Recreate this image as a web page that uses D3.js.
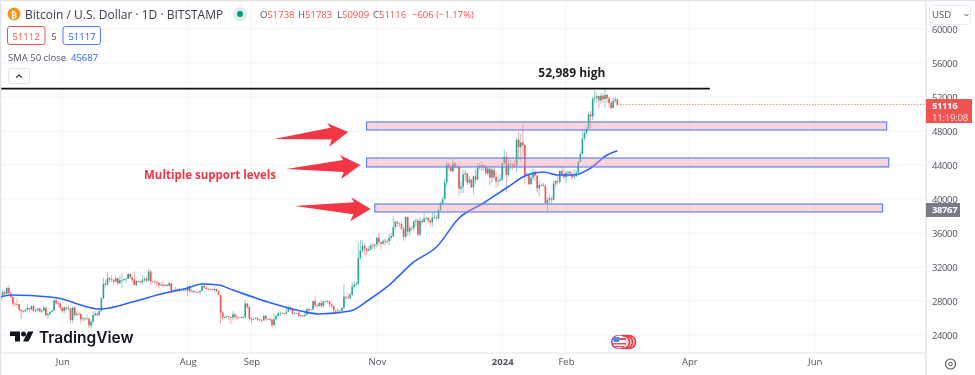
<!DOCTYPE html>
<html>
<head>
<meta charset="utf-8">
<script src="https://cdn.jsdelivr.net/npm/d3@7"></script>
<style>
  html, body { margin: 0; padding: 0; background: #fff; }
  svg { display: block; font-family: "Open Sans", sans-serif; filter: blur(0.3px); }
</style>
</head>
<body>
<svg class="chart" width="975" height="375"></svg>
<script>
"use strict";

// daily candles, first one is 2 May 2023
var firstDay = "2023-05-02";
var firstOpen = 28100;

var closes = [
  // may
  28680,29030,28850,29530,28900,28450,27690,27650,27620,26990,26800,26780,26930,27170,27030,27400,26830,26890,27110,26750,26850,27220,26330,26470,26720,26870,28080,27740,27700,27210,
  // jun
  26820,27250,27070,27120,25760,27240,26340,26500,26480,25850,25940,25900,25920,25120,25580,26340,26510,26340,26850,28310,30000,29890,30690,30550,30470,30270,30690,30080,30450,30470,
  // jul
  30590,30620,31160,30770,30510,29900,30350,30290,30170,30420,30620,30390,31470,30320,30290,30250,30140,29860,29910,29800,29910,29790,30080,29180,29230,29350,29220,29320,29360,29280,29230,
  // aug
  29700,29170,29180,29070,29050,29040,29180,29770,29570,29430,29400,29420,29280,29410,29170,28700,26630,26050,26100,26190,26120,26040,26430,26160,26050,26000,26090,26100,27720,27300,25940,
  // sep
  25800,25870,25970,25820,25780,25750,26240,25900,25890,25830,25150,25840,26230,26530,26600,26570,26530,26760,27210,27130,26570,26580,26580,26250,26300,26220,26370,27030,26910,26970,
  // oct
  27990,27500,27430,27790,27410,27950,27970,27930,27590,27390,26870,26760,26860,26860,27160,28520,28420,28330,28720,29680,29920,29990,33080,33930,34500,34160,33910,34090,34540,34500,34650,
  // nov
  35430,34930,34730,35080,35040,35050,35420,35620,36690,37310,37130,37060,36490,35550,37880,36160,36600,36570,37380,37470,35810,37420,37290,37720,37790,37480,37250,37830,37860,37720,
  // dec
  38690,39470,39980,41980,44080,43770,43290,44170,43720,43790,41240,41450,42890,43020,41940,42280,41370,42660,42270,43670,43860,43980,43720,43020,43580,42520,43440,42580,42070,42140,42280,
  // jan
  44180,44950,42840,44150,44160,43970,43930,46970,46120,46660,46340,42780,42840,41730,42510,43140,42740,41260,41620,41660,41550,39510,39890,40080,39930,41820,42120,42030,43300,42950,42580,
  // feb
  43080,43190,42990,42580,42660,43090,44340,45290,47130,47770,48290,49960,49700,51800,51900,52100,51600,52150,51750,52250,51850,51300,50700,51550,51738,51116
];

var highs = [
  29250,29250,29270,29700,29850,29100,28650,27800,28300,27650,26950,26950,27100,27640,27250,27500,27480,27130,27200,27250,27050,27450,27220,26580,26800,26900,28170,28450,28050,27830,
  27350,27320,27330,27450,27130,27350,27400,26800,26780,26530,26200,26080,26430,26060,25750,26800,26800,26700,27050,28400,30750,30500,31400,30800,31050,30650,31000,30750,31000,31280,
  30650,30790,31380,31320,30870,31500,30440,30380,30450,31050,30800,30970,31810,31630,30400,30450,30340,30230,30180,30400,30000,29990,30340,30100,29380,29680,29570,29530,29400,29440,29510,
  29730,30050,29420,29300,29100,29170,29230,30200,30150,29700,29550,29470,29450,29660,29480,29220,28770,26800,26300,26280,26250,26130,26810,26570,26320,26100,26170,26220,28130,27570,27460,
  26150,25970,26100,26100,25860,25900,26430,26430,25940,25980,25880,26550,26380,26800,26880,26650,26610,27400,27480,27380,27160,26700,26620,26730,26420,26380,26820,27200,27200,27080,
  28050,28550,27660,27830,28100,28000,28030,28100,28000,27730,27470,26950,27100,26980,27290,30000,28600,28950,29000,30200,30350,30200,34800,35200,35100,34800,34230,34470,34750,34850,34720,
  35550,35980,34930,35260,35380,35280,35900,35980,37950,37520,37400,37230,37400,36750,37970,37950,36850,36860,37500,37750,37650,37850,37650,38400,37900,37800,37590,38400,38400,38150,
  38850,39650,40200,42400,44400,44300,43850,44700,44350,44050,43800,42100,43400,43400,43100,42750,42400,42750,43450,44250,44200,44400,44000,43950,43800,43600,43700,43750,43150,42600,42900,
  44200,45900,45500,44750,44500,44200,44480,47200,47900,47700,49000,46500,43200,43080,43400,43600,43450,42900,42150,41850,41900,41700,40250,40550,40300,42200,42250,42800,43300,43850,43720,
  43250,43400,43380,43100,43500,43400,44500,45600,48170,48150,48600,50300,50370,52050,52800,52550,52150,52450,52450,52989,52350,52000,51550,51950,52000,51783
];

var lows = [
  27900,28440,28700,28830,28800,28350,27350,27400,27400,26750,25900,26600,26720,26850,26600,26870,26650,26650,26850,26670,26550,26800,26120,25870,26300,26620,26860,27560,27300,26850,
  26600,26560,26950,26970,25400,25370,26100,26240,26350,25400,25600,25650,25750,24800,24750,25170,26170,26200,26270,26650,28250,29600,29830,30250,30250,29900,30220,29850,30050,29520,
  30320,30100,30570,30620,30200,29750,29700,30100,30050,29950,30200,30200,30250,29900,30250,30050,29650,29520,29750,29600,29720,29650,29700,28900,29050,29100,29100,29120,29250,29100,29110,
  28600,28950,29000,28950,28950,28960,28700,29130,29350,29320,29350,29350,29250,29100,29050,28700,25300,25800,25980,25990,25820,25300,25800,25860,25780,25970,25960,25900,25900,27030,25680,
  25420,25780,25830,25620,25570,25400,25620,25660,25810,25550,24930,25120,25770,26210,26220,26480,26420,26380,26670,26870,26370,26520,26520,26150,26000,26120,26120,26350,26680,26880,
  26960,27180,27180,27220,27180,27200,27860,27730,27300,27170,26700,26550,26810,26800,26810,27130,28100,28150,28200,28620,29470,29650,29900,32800,33700,33400,33400,33850,33920,34080,34100,
  34300,34500,34100,34650,34600,34750,34550,35100,35530,36350,36750,36720,36350,35100,35400,35700,35650,36300,36250,36750,35650,35650,36880,37250,37580,37150,36800,36700,37600,37500,
  37600,38650,39300,39950,41400,43350,43100,43100,43600,43550,40350,40700,40700,42100,41650,41700,41300,40530,41800,42200,43420,43300,43300,42780,42750,41650,41900,42300,41350,41500,41980,
  42200,44300,40800,42650,43450,43450,43650,43200,44700,44400,44800,41800,42450,41700,41700,42100,42200,40750,40300,41430,41500,39450,38550,39500,39500,39800,41400,41650,41830,42700,42300,
  41900,42600,42900,42300,42300,42600,42800,44300,45200,46800,47550,48150,48300,49250,51300,51300,50650,51200,51300,50700,51300,50800,50500,50700,51300,50909
];

// SMA 50
var smaDates = ["2023-05-02","2023-05-07","2023-05-26","2023-06-01","2023-06-10","2023-06-19","2023-06-24","2023-07-05","2023-07-19","2023-08-01","2023-08-08","2023-08-16","2023-08-23","2023-09-09","2023-09-25","2023-10-04","2023-10-19","2023-10-28","2023-11-07","2023-11-19","2023-11-30","2023-12-11","2023-12-23","2024-01-03","2024-01-13","2024-01-21","2024-01-28","2024-02-05","2024-02-13","2024-02-21","2024-02-26"];
var smaValues = [28470,28700,28470,28240,27530,27060,27180,27880,28820,29530,30000,29880,29290,27880,26820,26470,26820,28120,29880,32590,34350,37760,39530,41290,42820,43180,42820,42820,43650,45180,45687];

var priceTicks = [24000,28000,32000,36000,40000,44000,48000,52000,56000,60000];
var dateTicks = ["2023-06-01","2023-08-01","2023-09-01","2023-11-01","2024-01-01","2024-02-01","2024-04-01","2024-06-01"];
var dateLabels = ["Jun","Aug","Sep","Nov","2024","Feb","Apr","Jun"];

// support zones and arrows pointing at them
var zoneStart = ["2023-10-27","2023-10-27","2023-10-31"];
var zoneEnd = ["2024-07-06","2024-07-07","2024-07-04"];
var zoneTop = [49060,44820,39410];
var zoneBottom = [48120,43770,38470];
var arrowTailDate = ["2023-09-12","2023-09-18","2023-09-22"];
var arrowTailPrice = [47060,43530,39180];
var arrowTipDate = ["2023-10-18","2023-10-24","2023-10-29"];
var arrowTipPrice = [47880,44000,38820];

var highPrice = 52989;
var highLineEnd = "2024-04-11";
var lastPrice = 51116;
var markedPrice = 38767;

var width = 975;
var height = 375;
var margin = ({top: 2, right: 49, bottom: 22, left: 1});
var parseDay = d3.utcParse("%Y-%m-%d");

var x = d3.scaleUtc()
  .domain([parseDay("2023-06-01"), parseDay("2024-06-01")])
  .range([62.3, 814.7]);

var y = d3.scaleLinear()
  .domain([24000, 60000])
  .range([335, 29]);

var plotRight = width - margin.right;
var plotBottom = height - margin.bottom;

var candles = closes.map(function(c, i) {
  return {
    date: d3.utcDay.offset(parseDay(firstDay), i),
    open: i == 0 ? firstOpen : closes[i - 1],
    close: c,
    high: highs[i],
    low: lows[i]
  };
});

var green = "#26a69a";
var red = "#ef5350";
var smallFont = "9.5px 'Open Sans'";

const svg = d3.select(".chart");

svg.append("defs").append("clipPath").attr("id", "plot")
  .append("rect")
  .attr("x", margin.left)
  .attr("y", margin.top)
  .attr("width", plotRight - margin.left)
  .attr("height", plotBottom - margin.top);

svg.append("rect").attr("width", width).attr("height", height).attr("fill", "#fff");

// grid
svg.append("g")
  .selectAll("line")
  .data(priceTicks)
  .enter().append("line")
  .attr("x1", margin.left).attr("x2", plotRight)
  .attr("y1", d => y(d)).attr("y2", d => y(d))
  .attr("stroke", "#f2f3f7");

svg.append("g")
  .selectAll("line")
  .data(dateTicks)
  .enter().append("line")
  .attr("x1", d => x(parseDay(d))).attr("x2", d => x(parseDay(d)))
  .attr("y1", margin.top).attr("y2", plotBottom)
  .attr("stroke", "#f2f3f7");

const plot = svg.append("g").attr("clip-path", "url(#plot)");

// last price line
plot.append("line")
  .attr("x1", x(candles[candles.length - 1].date)).attr("x2", plotRight)
  .attr("y1", y(lastPrice)).attr("y2", y(lastPrice))
  .attr("stroke", red)
  .attr("stroke-dasharray", "1 2");

// candles
plot.append("g")
  .selectAll("line")
  .data(candles)
  .enter().append("line")
  .attr("x1", d => x(d.date)).attr("x2", d => x(d.date))
  .attr("y1", d => y(d.high)).attr("y2", d => y(d.low))
  .attr("stroke", d => d.close >= d.open ? green : red)
  .attr("stroke-opacity", 0.65)
  .attr("stroke-width", 0.8);

plot.append("g")
  .selectAll("rect")
  .data(candles)
  .enter().append("rect")
  .attr("x", d => x(d.date) - 0.8)
  .attr("width", 1.6)
  .attr("y", d => y(Math.max(d.open, d.close)))
  .attr("height", d => Math.max(0.7, Math.abs(y(d.open) - y(d.close))))
  .attr("fill", d => d.close >= d.open ? green : red);

// sma
plot.append("path")
  .datum(smaValues)
  .attr("fill", "none")
  .attr("stroke", "#2962ff")
  .attr("stroke-width", 1.6)
  .attr("d", d3.line()
    .x((d, i) => x(parseDay(smaDates[i])))
    .y(d => y(d))
    .curve(d3.curveMonotoneX));

// zones
plot.append("g")
  .selectAll("rect")
  .data(zoneTop)
  .enter().append("rect")
  .attr("x", (d, i) => x(parseDay(zoneStart[i])))
  .attr("y", d => y(d))
  .attr("width", (d, i) => x(parseDay(zoneEnd[i])) - x(parseDay(zoneStart[i])))
  .attr("height", (d, i) => y(zoneBottom[i]) - y(d))
  .attr("fill", "#f49aa6")
  .attr("fill-opacity", 0.42)
  .attr("stroke", "#5f86ef")
  .attr("stroke-width", 1.2);

// 52,989 line
svg.append("line")
  .attr("x1", 0).attr("x2", x(parseDay(highLineEnd)))
  .attr("y1", y(highPrice)).attr("y2", y(highPrice))
  .attr("stroke", "#111")
  .attr("stroke-width", 1.6);

svg.append("text")
  .attr("x", x(parseDay(highLineEnd)) - 138)
  .attr("y", y(highPrice) - 12)
  .attr("text-anchor", "middle")
  .style("font", "bold 12px 'Open Sans'")
  .attr("fill", "#222")
  .text("52,989 high");

// red arrows, thin tail and swept head
var arrowShape = function(tx, ty, hx, hy) {
  var len = Math.hypot(hx - tx, hy - ty);
  var ux = (hx - tx) / len, uy = (hy - ty) / len;
  var p = (along, side) => [tx + ux * along - uy * side, ty + uy * along + ux * side];
  return [
    p(0, 0),
    p(len - 17, -6),
    p(len - 20, -11),
    p(len, 0),
    p(len - 20, 13),
    p(len - 17, 6)
  ];
};

svg.append("g")
  .selectAll("path")
  .data(arrowTipPrice)
  .enter().append("path")
  .attr("fill", "#f23645")
  .attr("d", (d, i) => d3.line()(arrowShape(
    x(parseDay(arrowTailDate[i])), y(arrowTailPrice[i]),
    x(parseDay(arrowTipDate[i])), y(d))) + "Z");

svg.append("text")
  .attr("x", 144).attr("y", 179)
  .style("font", "bold 11.5px 'Open Sans'")
  .attr("fill", "#f23645")
  .text("Multiple support levels");

// price axis
var yAxis = g => g
  .attr("transform", `translate(${plotRight},0)`)
  .call(d3.axisRight(y).tickValues(priceTicks).tickSize(0).tickPadding(6).tickFormat(d3.format("d")))
  .call(g => g.select(".domain").remove())
  .call(g => g.selectAll("text").attr("fill", "#50535e").style("font", smallFont).style("letter-spacing", "-0.4px"));

var xAxis = g => g
  .attr("transform", `translate(0,${plotBottom})`)
  .call(d3.axisBottom(x).tickValues(dateTicks.map(parseDay)).tickSize(0).tickPadding(5).tickFormat((d, i) => dateLabels[i]))
  .call(g => g.select(".domain").remove())
  .call(g => g.selectAll("text").attr("fill", "#50535e").style("font", smallFont))
  .call(g => g.selectAll("text").filter((d, i) => i == 4).style("font-weight", "bold"));

svg.append("g").call(yAxis);
svg.append("g").call(xAxis);

// borders
svg.append("line").attr("x1", plotRight).attr("x2", plotRight).attr("y1", 0).attr("y2", height).attr("stroke", "#e3e5ec").attr("stroke-width", 1.5);
svg.append("line").attr("x1", 0).attr("x2", plotRight).attr("y1", plotBottom).attr("y2", plotBottom).attr("stroke", "#e3e5ec").attr("stroke-width", 1.2);
svg.append("line").attr("x1", 0).attr("x2", width).attr("y1", 0.5).attr("y2", 0.5).attr("stroke", "#e0e3eb").attr("stroke-width", 1.5);
svg.append("line").attr("x1", 0.5).attr("x2", 0.5).attr("y1", 0).attr("y2", height).attr("stroke", "#e0e3eb").attr("stroke-width", 1.5);

// price tags
svg.append("rect").attr("x", plotRight).attr("y", y(lastPrice) - 5.5).attr("width", 46).attr("height", 24).attr("fill", "#f05350");
svg.append("text").attr("x", plotRight + 6).attr("y", y(lastPrice) + 4).attr("fill", "#fff")
  .style("font", "bold 9.5px 'Open Sans'").style("letter-spacing", "-0.4px").text(lastPrice);
svg.append("text").attr("x", plotRight + 6).attr("y", y(lastPrice) + 16).attr("fill", "#fde3e3")
  .style("font", smallFont).style("letter-spacing", "-0.2px").text("11:19:08");
svg.append("rect").attr("x", plotRight).attr("y", y(markedPrice) - 6.5).attr("width", 34).attr("height", 14).attr("fill", "#787b86");
svg.append("text").attr("x", plotRight + 6).attr("y", y(markedPrice) + 4).attr("fill", "#fff")
  .style("font", "bold 9.5px 'Open Sans'").style("letter-spacing", "-0.4px").text(markedPrice);

// USD button
svg.append("rect").attr("x", 929.5).attr("y", 5.5).attr("width", 41).attr("height", 19).attr("rx", 3)
  .attr("fill", "#fff").attr("stroke", "#e8eaf1");
svg.append("text").attr("x", 932).attr("y", 18).attr("fill", "#50535e").style("font", smallFont).text("USD");
svg.append("path").attr("d", "M964.5 14l2 2 2-2").attr("fill", "none").attr("stroke", "#50535e");

// settings wheel
svg.append("circle").attr("cx", 950.5).attr("cy", 364).attr("r", 5).attr("fill", "none").attr("stroke", "#555").attr("stroke-width", 1.1);
svg.append("circle").attr("cx", 950.5).attr("cy", 364).attr("r", 1.8).attr("fill", "none").attr("stroke", "#555").attr("stroke-width", 1);

// header
svg.append("circle").attr("cx", 14).attr("cy", 14).attr("r", 6.5).attr("fill", "#f7931a");
svg.append("text").attr("x", 14).attr("y", 17.5).attr("text-anchor", "middle").attr("fill", "#fff")
  .style("font", "bold 9px 'DejaVu Sans'").text("₿");
svg.append("text").attr("x", 25).attr("y", 18.5).attr("fill", "#3a3d48")
  .style("font", "12px 'Open Sans'").text("Bitcoin / U.S. Dollar · 1D · BITSTAMP");
svg.append("circle").attr("cx", 240).attr("cy", 14).attr("r", 7).attr("fill", "#daf1ec");
svg.append("circle").attr("cx", 240).attr("cy", 14).attr("r", 3).attr("fill", "#089981");

var ohlcLabels = ["O", "H", "L", "C"];
var ohlcValues = [51738, 51783, 50909, 51116];
var ohlcX = [260, 298, 337, 373];
var legend = svg.append("text").attr("y", 18).style("font", smallFont);
ohlcLabels.forEach(function(l, i) {
  legend.append("tspan").attr("x", ohlcX[i]).attr("fill", "#50535e").text(l);
  legend.append("tspan").attr("fill", red).text(ohlcValues[i]);
});
legend.append("tspan").attr("x", 412).attr("fill", red).text("−606 (−1.17%)");

svg.append("rect").attr("x", 7.5).attr("y", 26.5).attr("width", 37.5).attr("height", 18).attr("rx", 2.5).attr("fill", "#fff").attr("stroke", red);
svg.append("text").attr("x", 26).attr("y", 39.5).attr("text-anchor", "middle").attr("fill", red).style("font", smallFont).text("51112");
svg.append("text").attr("x", 54).attr("y", 39.5).attr("text-anchor", "middle").attr("fill", "#50535e").style("font", smallFont).text("5");
svg.append("rect").attr("x", 63).attr("y", 26.5).attr("width", 37.5).attr("height", 18).attr("rx", 2.5).attr("fill", "#fff").attr("stroke", "#2962ff").attr("stroke-opacity", 0.8);
svg.append("text").attr("x", 82).attr("y", 39.5).attr("text-anchor", "middle").attr("fill", "#2962ff").style("font", smallFont).text("51117");

svg.append("text").attr("x", 8).attr("y", 61).attr("fill", "#50535e").style("font", smallFont).text("SMA 50 close");
svg.append("text").attr("x", 71).attr("y", 61).attr("fill", "#2962ff").style("font", smallFont).text("45687");

svg.append("rect").attr("x", 8.5).attr("y", 68.5).attr("width", 21).attr("height", 15).attr("rx", 2).attr("fill", "#fff").attr("stroke", "#e3e5ec");
svg.append("path").attr("d", "M16 77.5l3-2.5 3 2.5").attr("fill", "none").attr("stroke", "#333").attr("stroke-width", 1.1);

// tradingview logo
const logo = svg.append("g").attr("fill", "#131722");
logo.append("path").attr("d", "M10 331.5h10v10h-5v-5.5h-5z");
logo.append("circle").attr("cx", 23.5).attr("cy", 334).attr("r", 2.5);
logo.append("path").attr("d", "M28 331.5h5.5l-5 10h-5.5z");
logo.append("text").attr("x", 39).attr("y", 343).style("font", "600 15.5px Inter").text("TradingView");

// event flag near the bottom
const flag = svg.append("g");
[632, 629, 626].forEach(function(cx) {
  flag.append("circle").attr("cx", cx - 3).attr("cy", 342).attr("r", 6.5).attr("fill", "#fbd5d8").attr("stroke", "#f23645").attr("stroke-width", 1.6);
});
flag.append("circle").attr("cx", 618).attr("cy", 342).attr("r", 7).attr("fill", "#b02fb0");
flag.append("circle").attr("cx", 619).attr("cy", 342).attr("r", 6.5).attr("fill", "#fff");
flag.append("path").attr("d", "M613 338h13v2h-13zM613 343h13v1.5h-13zM614 346h10v1.5h-10z").attr("fill", "#ef4d55");
flag.append("path").attr("d", "M613.5 337h6v5h-6z").attr("fill", "#4c8fe6");
</script>
</body>
</html>
